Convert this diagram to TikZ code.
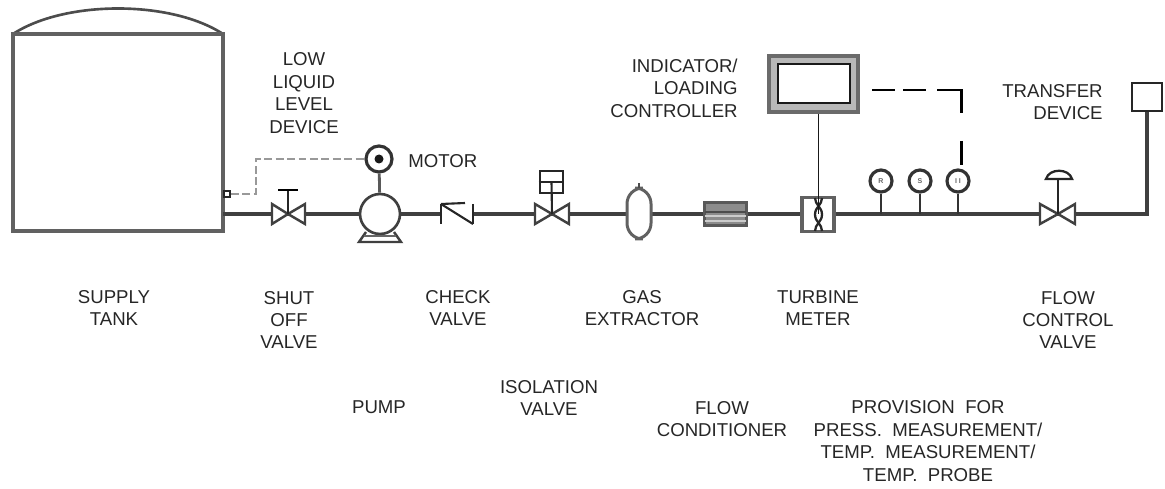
\documentclass[tikz,border=0pt]{standalone}
\usepackage{fontspec}
\setmainfont{Liberation Sans}
\begin{document}
\begin{tikzpicture}[
    x=0.02cm, y=-0.02cm,
    label/.style={align=center, font=\fontsize{10.6pt}{12.8pt}\selectfont, inner sep=0pt, text=black!85},
    pipe/.style={line width=1.9pt, draw=black!75},
    thinline/.style={line width=1.2pt, draw=black!85},
    part/.style={line width=1.4pt, draw=black!75, fill=white},
    gauge/.style={circle, draw=black!80, line width=1.8pt, fill=white, inner sep=0pt, font=\fontsize{4pt}{4pt}\selectfont, text=black!60},
    signal/.style={line width=1.7pt, draw=black}
]
\useasboundingbox (0,0) rectangle (1165,489);

% tank
\coordinate (tankNW) at (13,34);
\coordinate (tankNE) at (223,34);
\coordinate (tankSE) at (223,231);
\coordinate (tankSW) at (13,231);
\draw[line width=1.5pt, draw=black!70] (tankNW) .. controls (65,0) and (171,0) .. (tankNE);
\draw[line width=1.9pt, draw=black!62] (tankNW) -- (tankNE) -- (tankSE) -- (tankSW) -- cycle;

% pipe run
\coordinate (pipeL) at (223,214);
\coordinate (pipeR) at (1147,214);
\node[draw=black!85, line width=1.1pt, inner sep=1.6pt] (lldev) at (227,194) {};
\node[draw=black!85, line width=1.3pt, minimum width=0.6cm, minimum height=0.56cm, inner sep=0pt] (xfer) at (1147,97) {};
\draw[pipe] (pipeL) -- (pipeR) -- (xfer.south);

% shut off valve
\coordinate (sov) at (288,214);
\draw[part] (272,204) -- (288,214) -- (272,224) -- cycle;
\draw[part] (305,204) -- (288,214) -- (305,224) -- cycle;
\draw[thinline] (sov) -- (288,190);
\draw[line width=1.3pt] (278,190) -- (298,190);

% pump and motor
\node[gauge, minimum size=0.52cm] (motor) at (379,159) {};
\fill[black!90] (motor) circle (4.5);
\node[circle, draw=black!75, line width=1.5pt, fill=white, minimum size=0.8cm, inner sep=0pt] (pump) at (380,214) {};
\draw[line width=1.6pt, draw=black!65] (motor) -- (pump);
\draw[line width=1.4pt, draw=black!75] (366,232) -- (359,242) -- (401,242) -- (394,232);
\draw[line width=1pt, draw=black!60] (364,236) -- (396,236);

% level device line
\draw[line width=1.4pt, draw=black!40, dash pattern=on 4.5pt off 2pt] (lldev.east) -- (256,194) -- (256,159) -- (motor.west);

% check valve
\node[fill=white, inner sep=0pt, minimum width=0.62cm, minimum height=0.3cm] (cvbg) at (457,214) {};
\draw[thinline] (441,204) -- (441,224);
\draw[thinline] (473,204) -- (473,224);
\draw[thinline] (441,204) -- (473,224);
\draw[thinline] (441,204) -- (465,203);

% isolation valve
\coordinate (iv) at (552,214);
\draw[part] (535,204) -- (552,214) -- (535,224) -- cycle;
\draw[part] (569,204) -- (552,214) -- (569,224) -- cycle;
\node[draw=black!85, line width=1.5pt, minimum width=0.46cm, minimum height=0.44cm, inner sep=0pt] (actuator) at (551.5,182) {};
\draw[thinline] (actuator.west) -- (actuator.east);
\draw[thinline] (iv) -- (actuator.center);

% gas extractor
\draw[line width=1.7pt, draw=black!62, fill=white, rounded corners=9pt] (627,188) rectangle (651,239);
\draw[line width=1.1pt, draw=black!70] (639,188) -- (639,183);

% flow conditioner
\node[draw=black!65, line width=1.5pt, fill=black!45, minimum width=0.84cm, minimum height=0.46cm, inner sep=0pt] (cond) at (725.5,214) {};
\foreach \yy in {216,221} \draw[line width=0.9pt, draw=black!20] (705,\yy) -- (746,\yy);
\draw[line width=0.8pt, draw=black!70] (705,212) -- (746,212);

% turbine meter
\node[draw=black!62, line width=1.8pt, fill=white, minimum width=0.64cm, minimum height=0.68cm, inner sep=0pt] (meter) at (818,214.5) {};
\draw[line width=1.3pt, draw=black!85] (815,198) .. controls (815,205) and (822,207) .. (822,214.5) .. controls (822,222) and (815,224) .. (815,231);
\draw[line width=1.3pt, draw=black!85] (822,198) .. controls (822,205) and (815,207) .. (815,214.5) .. controls (815,222) and (822,224) .. (822,231);

% indicator
\node[draw=black!58, line width=2.6pt, fill=black!28, minimum width=1.78cm, minimum height=1.12cm, inner sep=0pt] (indicator) at (813.5,84) {};
\node[draw=black!90, line width=1.3pt, fill=white, minimum width=1.44cm, minimum height=0.78cm, inner sep=0pt] (screen) at (814,83.5) {};
\draw[line width=0.45pt, draw=black!90] (indicator.south -| meter.center) -- (meter.center);

% gauges
\coordinate (g1) at (881,214);
\coordinate (g2) at (920,214);
\coordinate (g3) at (958,214);
\node[gauge, minimum size=0.44cm] (press) at (881,181) {\textbf{R}};
\node[gauge, minimum size=0.44cm] (temp) at (920,181) {\textbf{S}};
\node[gauge, minimum size=0.44cm] (probe) at (958,181) {\textbf{I I}};
\draw[line width=1.3pt, draw=black!80] (press) -- (g1);
\draw[line width=1.3pt, draw=black!80] (temp) -- (g2);
\draw[line width=1.3pt, draw=black!80] (probe) -- (g3);

% signal line
\coordinate (sigA) at (872,90);
\coordinate (sigB) at (928,90);
\coordinate (sigC) at (937,90);
\coordinate (sigD) at (961,90);
\coordinate (sigE) at (961,113);
\coordinate (sigF) at (961,141);
\coordinate (sigG) at (961,165);
\draw[signal, dash pattern=on 13pt off 4.7pt] (sigA) -- (sigB);
\draw[signal] (sigC) -- (sigD) -- (sigE);
\draw[signal] (sigF) -- (sigG);

% flow control valve
\coordinate (fcv) at (1058,214);
\draw[part] (1040,204) -- (1058,214) -- (1040,224) -- cycle;
\draw[part] (1075,204) -- (1058,214) -- (1075,224) -- cycle;
\draw[thinline] (fcv) -- (1058,179);
\draw[line width=1.3pt, draw=black!85, fill=white] (1046,179) .. controls (1049,168) and (1069,168) .. (1072,179) -- cycle;

% labels
\node[label] (lblLow) at (304,93) {LOW\\LIQUID\\LEVEL\\DEVICE};
\node[label, anchor=west] (lblMotor) at (408,161) {MOTOR};
\node[label, align=right, anchor=east] (lblInd) at (738,88) {INDICATOR/\\LOADING\\CONTROLLER};
\node[label, align=right, anchor=east] (lblXfer) at (1103,102) {TRANSFER\\DEVICE};
\node[label] (lblTank) at (114,308) {SUPPLY\\TANK};
\node[label] (lblShut) at (289,320) {SHUT\\OFF\\VALVE};
\node[label] (lblCheck) at (458,308) {CHECK\\VALVE};
\node[label] (lblGas) at (642,308) {GAS\\EXTRACTOR};
\node[label] (lblTurb) at (818,308) {TURBINE\\METER};
\node[label] (lblFcv) at (1068,320) {FLOW\\CONTROL\\VALVE};
\node[label] (lblPump) at (379,407) {PUMP};
\node[label] (lblIso) at (549,398) {ISOLATION\\VALVE};
\node[label] (lblCond) at (722,419) {FLOW\\CONDITIONER};
\node[label] (lblProv) at (928,441) {PROVISION~~FOR\\PRESS.~~MEASUREMENT/\\TEMP.~~MEASUREMENT/\\TEMP.~~PROBE};

\end{tikzpicture}
\end{document}
